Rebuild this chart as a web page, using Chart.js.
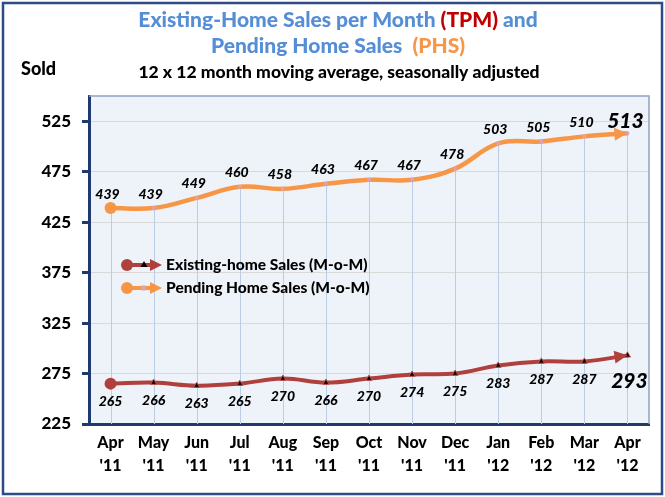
<!DOCTYPE html>
<html>
<head>
<meta charset="utf-8">
<script src="https://cdn.jsdelivr.net/npm/chart.js@4.4.1/dist/chart.umd.min.js"></script>
<style>
  html, body { margin: 0; padding: 0; background: #fff; }
  #wrap { width: 665px; height: 497px; }
</style>
</head>
<body>
<div id="wrap"><canvas id="salesChart" width="665" height="497"></canvas></div>
<script>
// data
const months = ['Apr', 'May', 'Jun', 'Jul', 'Aug', 'Sep', 'Oct', 'Nov', 'Dec', 'Jan', 'Feb', 'Mar', 'Apr'];
const years = ["'11", "'11", "'11", "'11", "'11", "'11", "'11", "'11", "'11", "'12", "'12", "'12", "'12"];
const pendingSales = [439, 439, 449, 460, 458, 463, 467, 467, 478, 503, 505, 510, 513];
const existingSales = [265, 266, 263, 265, 270, 266, 270, 274, 275, 283, 287, 287, 293];
const yTicks = [225, 275, 325, 375, 425, 475, 525];

const FONT = 'Lato, "DejaVu Sans", sans-serif';
const W = '900';
const BLUE = '#558ED5';
const RED_T = '#C00000';
const ORANGE = '#F79646';
const RED_LINE = '#B0403C';

// draw a line of text made of coloured pieces, centred on cx
function drawRich(ctx, parts, cx, y, font) {
  ctx.font = font;
  const total = parts.reduce((s, p) => s + ctx.measureText(p[0]).width, 0);
  let x = cx - total / 2;
  ctx.textAlign = 'left';
  ctx.textBaseline = 'middle';
  parts.forEach(p => {
    ctx.fillStyle = p[1];
    ctx.fillText(p[0], x, y);
    x += ctx.measureText(p[0]).width;
  });
}

function arrowHead(ctx, pt, color, len, half) {
  let dx = pt.x - pt.cp1x, dy = pt.y - pt.cp1y;
  const d = Math.hypot(dx, dy) || 1;
  dx /= d; dy /= d;
  const bx = pt.x - dx * len, by = pt.y - dy * len;
  ctx.fillStyle = color;
  ctx.beginPath();
  ctx.moveTo(pt.x, pt.y);
  ctx.lineTo(bx - dy * half, by + dx * half);
  ctx.lineTo(bx + dy * half, by - dx * half);
  ctx.closePath();
  ctx.fill();
}

const framePlugin = {
  id: 'frame',
  beforeDraw(chart) {
    const { ctx, chartArea: a } = chart;
    ctx.save();
    ctx.fillStyle = '#fff';
    ctx.fillRect(0, 0, chart.width, chart.height);
    ctx.strokeStyle = '#2F4B85';
    ctx.lineWidth = 2.5;
    ctx.strokeRect(3, 3, chart.width - 6, chart.height - 6);
    ctx.fillStyle = '#EEF3F9';
    ctx.fillRect(a.left, a.top, a.right - a.left, a.bottom - a.top);

    drawRich(ctx, [['Existing-Home Sales per Month ', BLUE], ['(TPM)', RED_T], [' and', BLUE]], 338, 20, W + ' 21px ' + FONT);
    drawRich(ctx, [['Pending Home Sales  ', BLUE], ['(PHS)', ORANGE]], 338, 46, W + ' 21px ' + FONT);
    drawRich(ctx, [['12 x 12 month moving average, seasonally adjusted', '#000']], 339, 72, W + ' 17.5px ' + FONT);
    ctx.font = W + ' 18px ' + FONT;
    ctx.fillStyle = '#000';
    ctx.textAlign = 'left';
    ctx.fillText('Sold', 21, 69);
    ctx.restore();
  },
  beforeDatasetsDraw(chart) {
    // drop lines from the upper series down to the axis
    const { ctx, chartArea: a } = chart;
    const meta = chart.getDatasetMeta(0);
    ctx.save();
    ctx.strokeStyle = '#B9CDE5';
    ctx.lineWidth = 1;
    meta.data.forEach(pt => {
      const x = Math.round(pt.x) + 0.5;
      ctx.beginPath();
      ctx.moveTo(x, pt.y);
      ctx.lineTo(x, a.bottom);
      ctx.stroke();
    });
    ctx.restore();
  },
  afterDatasetsDraw(chart) {
    const { ctx } = chart;
    const m0 = chart.getDatasetMeta(0).data;
    const m1 = chart.getDatasetMeta(1).data;
    ctx.save();
    // start circles and end arrows
    [[m0, ORANGE], [m1, RED_LINE]].forEach(([pts, c]) => {
      ctx.fillStyle = c;
      ctx.beginPath();
      ctx.arc(pts[0].x, pts[0].y, 6, 0, Math.PI * 2);
      ctx.fill();
      arrowHead(ctx, pts[pts.length - 1], c, 13, 6.5);
    });

    // value labels
    ctx.fillStyle = '#000';
    ctx.textAlign = 'center';
    ctx.textBaseline = 'middle';
    const last = pendingSales.length - 1;
    pendingSales.forEach((v, i) => {
      const p = m0[i];
      if (i === last) {
        ctx.font = 'italic ' + W + ' 21px ' + FONT;
        ctx.fillText(v, p.x - 2, p.y - 12);
      } else {
        ctx.font = 'italic ' + W + ' 14px ' + FONT;
        ctx.fillText(v, p.x - 3, p.y - 14);
      }
    });
    existingSales.forEach((v, i) => {
      const p = m1[i];
      if (i === last) {
        ctx.font = 'italic ' + W + ' 21px ' + FONT;
        ctx.fillText(v, p.x + 2, p.y + 26);
      } else {
        ctx.font = 'italic ' + W + ' 14px ' + FONT;
        ctx.fillText(v, p.x, p.y + 18);
      }
    });

    // legend
    const items = [
      { text: 'Existing-home Sales (M-o-M)', color: RED_LINE, y: 265, tri: true },
      { text: 'Pending Home Sales (M-o-M)', color: ORANGE, y: 288, tri: false }
    ];
    items.forEach(it => {
      ctx.strokeStyle = it.color;
      ctx.lineWidth = 4;
      ctx.beginPath();
      ctx.moveTo(127, it.y);
      ctx.lineTo(152, it.y);
      ctx.stroke();
      ctx.fillStyle = it.color;
      ctx.beginPath();
      ctx.arc(127, it.y, 6, 0, Math.PI * 2);
      ctx.fill();
      ctx.beginPath();
      ctx.moveTo(162, it.y);
      ctx.lineTo(150, it.y - 6);
      ctx.lineTo(150, it.y + 6);
      ctx.closePath();
      ctx.fill();
      if (it.tri) {
        ctx.fillStyle = '#000';
        ctx.beginPath();
        ctx.moveTo(144, it.y - 4);
        ctx.lineTo(147.5, it.y + 2);
        ctx.lineTo(140.5, it.y + 2);
        ctx.closePath();
        ctx.fill();
      } else {
        ctx.fillStyle = '#D9A3B0';
        ctx.fillRect(141, it.y - 2.5, 5, 5);
      }
      ctx.fillStyle = '#000';
      ctx.font = W + ' 15.5px ' + FONT;
      ctx.textAlign = 'left';
      ctx.fillText(it.text, 166, it.y);
    });
    ctx.restore();
  },
  afterDraw(chart) {
    const { ctx, chartArea: a } = chart;
    ctx.save();
    ctx.strokeStyle = '#8EA3C4';
    ctx.lineWidth = 1.5;
    ctx.beginPath();
    ctx.moveTo(a.left, a.top);
    ctx.lineTo(a.right, a.top);
    ctx.lineTo(a.right, a.bottom);
    ctx.stroke();
    ctx.restore();
  }
};

new Chart(document.getElementById('salesChart'), {
  type: 'line',
  data: {
    labels: months.map((m, i) => [m, years[i]]),
    datasets: [{
      label: 'Pending Home Sales (M-o-M)',
      data: pendingSales,
      borderColor: ORANGE,
      borderWidth: 4.5,
      tension: 0.4,
      pointStyle: 'rect',
      pointRadius: 2.5,
      pointBackgroundColor: '#D9A3B0',
      pointBorderColor: '#D9A3B0',
      pointBorderWidth: 0
    }, {
      label: 'Existing-home Sales (M-o-M)',
      data: existingSales,
      borderColor: RED_LINE,
      borderWidth: 4,
      tension: 0.4,
      pointStyle: 'triangle',
      pointRadius: 3.5,
      pointBackgroundColor: '#000',
      pointBorderColor: '#C0504D',
      pointBorderWidth: 1
    }]
  },
  options: {
    responsive: false,
    animation: false,
    events: [],
    layout: { padding: { left: 0, right: 16, top: 96, bottom: 0 } },
    plugins: {
      legend: { display: false },
      title: { display: false },
      tooltip: { enabled: false }
    },
    scales: {
      x: {
        offset: true,
        grid: { display: false, drawTicks: false },
        border: { display: true, color: '#1F3A6E', width: 3 },
        ticks: {
          color: '#000',
          font: { family: FONT, size: 16, weight: W, lineHeight: 1.45 },
          padding: 7,
          maxRotation: 0,
          autoSkip: false
        },
        afterFit(s) { s.height = 73; }
      },
      y: {
        min: 225,
        max: 550,
        afterBuildTicks(s) { s.ticks = yTicks.map(v => ({ value: v })); },
        grid: { color: '#D9D9D9', lineWidth: 1, tickColor: '#1F3A6E', tickLength: 7, tickWidth: 3 },
        border: { display: true, color: '#1F3A6E', width: 3 },
        ticks: {
          color: '#000',
          font: { family: FONT, size: 17, weight: W },
          padding: 11
        },
        afterFit(s) { s.width = 89; }
      }
    }
  },
  plugins: [framePlugin]
});
</script>
</body>
</html>
